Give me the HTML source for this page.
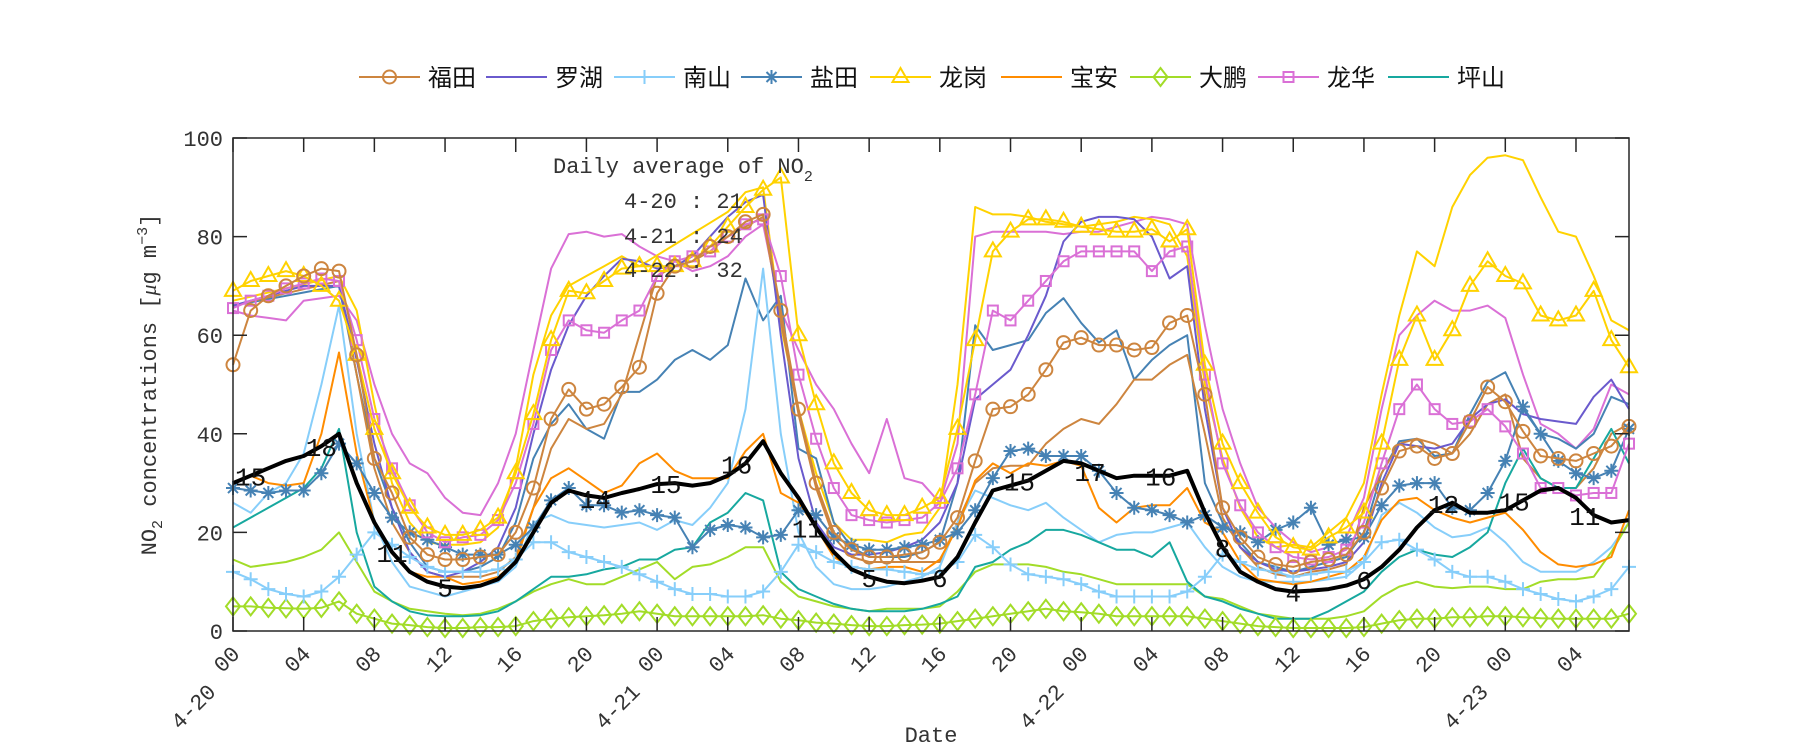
<!DOCTYPE html>
<html><head><meta charset="utf-8">
<style>
html,body{margin:0;padding:0;background:#fff;}
svg{display:block;}
text{font-family:"Liberation Mono",monospace;fill:#333;}
.cjk{font-family:"Liberation Sans","Noto Sans CJK SC",sans-serif;fill:#111;}
</style></head><body>
<svg id="s" width="1800" height="750" xmlns="http://www.w3.org/2000/svg"></svg>
<script>
const S=document.getElementById('s');
const L=233,R=1629,T=138,B=631,NH=79;
const X=h=>L+h*(R-L)/NH, Y=v=>B-v*(B-T)/100;
let out='';
function interp(kp){const a=[];
 const pts=[];for(let i=0;i<kp.length;i+=2)pts.push([kp[i],kp[i+1]]);
 for(let h=0;h<=NH;h++){let j=0;while(j<pts.length-1&&pts[j+1][0]<h)j++;
  const p=pts[j],q=pts[Math.min(j+1,pts.length-1)];
  let v;if(h<=p[0])v=p[1];else if(q[0]===p[0])v=p[1];else v=p[1]+(q[1]-p[1])*(h-p[0])/(q[0]-p[0]);a.push(v);}return a;}
function line(vals,col,w){out+=`<polyline fill="none" stroke="${col}" stroke-width="${w}" stroke-linejoin="round" points="${vals.map((v,h)=>X(h).toFixed(1)+','+Y(v).toFixed(1)).join(' ')}"/>`;}
function marker(type,x,y,col){
 x=+x;y=+y;
 const st=`fill="none" stroke="${col}" stroke-width="2"`;
 if(type==='o')return `<circle cx="${x}" cy="${y}" r="6.5" ${st}/>`;
 if(type==='+')return `<path d="M${x-7} ${y}h14M${x} ${y-7}v14" ${st}/>`;
 if(type==='*')return `<path d="M${x-7} ${y}h14M${x} ${y-7}v14M${x-5} ${y-5}l10 10M${x-5} ${y+5}l10 -10" ${st}/>`;
 if(type==='^')return `<path d="M${x} ${y-9}L${x+8} ${y+5}L${x-8} ${y+5}Z" ${st}/>`;
 if(type==='d')return `<path d="M${x} ${y-9}L${x+7} ${y}L${x} ${y+9}L${x-7} ${y}Z" ${st}/>`;
 if(type==='s')return `<rect x="${x-5}" y="${y-5}" width="10" height="10" ${st}/>`;
 return '';}
function series(vals,col,m){line(vals,col,2);if(m)vals.forEach((v,h)=>out+=marker(m,X(h),Y(v),col));}
const seq=a=>{const k=[];a.forEach((v,i)=>{k.push(i,v)});return interp(k);};

const C={fu:'#CD853F',luo:'#6A5ACD',nan:'#87CEFA',yan:'#4682B4',lg:'#FFD200',ba:'#FF8C00',dp:'#A2DC28',lh:'#DA70D6',ps:'#17A89F'};

series(seq([65,64,63.5,63,67,67.5,68,63,50,40,34,32,27,24,23.5,30,40,57,73.5,80.5,81,80,80.5,78,76,75,73,74,76,80,82.5,65,57,50,45,38,32,43,31,30,26,38,80,81,81,81,81,80.5,81,81,82,83,84,83.5,82.5,62,45,34,25,21,18,16,17,19,27,45,60,64,67,65,65,66,63.5,52,42,40,37,41,50,48]),C.lh);
series(interp([0,67,6,72,7,65,8,46,9,30,10,22,11,18,12,17.5,13,17.5,14,18,15,21,16,33,17,52,18,64,19,70,20,72,21,74,22,76,23,74,28,85,29,89,30,90,31,62,32,45,33,32,34,22,35,18.5,36,18.5,37,18,38,19.5,39,20,40,25,41,50,42,86,43,84.5,44,84.5,45,84,46,83,47,82.5,48,82,49,82.5,50,83,51,84,52,83.5,53,82.5,54,76,55,50,56,35,57,25,58,19,59,17,60,17.5,61,17,62,20,63,23,64,30,65,48,66,64,67,77,68,74,69,86,70,92.5,71,96,72,96.5,73,95.5,74,88,75,81,76,80,77,72,78,63,79,61]),C.lg);
series(interp([0,66,6,70,7,52,8,35,9,25,10,18,11,13,12,12,13,12,14,13,15,15,16,22,17,35,18,42,19,46,20,41,21,39,22,48.5,23,48.5,24,51,25,55,26,57,27,55,28,58,29,71.5,30,63,31,68,32,37,33,35,34,22,35,17,36,15,37,15,38,15,39,16,40,18,41,30,42,62,43,57,44,58,45,59,46,64.5,47,67.5,48,62.5,49,58.5,50,61,51,51,52,55,53,58,54,60,55,30,56,22,57,18,58,14,59,13,60,12,61,13,62,14,63,15,64,20,65,32,66,38.5,67,39,68,35.5,69,36,70,44,71,50.5,72,52.5,73,45,74,40,75,39,76,37,77,40,78,47.5,79,46]),C.yan);
series(interp([0,66,6,71,7,52,8,33,9,22,10,16,11,12,12,11,13,11,14,11,15,12,16,15,17,25,18,37,19,43,20,41,21,42,22,48,23,60,24,72,25,74,26,75,27,77,28,80,29,82,30,84,31,63,32,44,33,29,34,19,35,15,36,14,37,14,38,14,39,14,40,14,41,22,42,30,43,33,44,33.5,45,33.5,46,38,47,41,48,43,49,42,50,46,51,51,52,51,53,54,54,56,55,40,56,23,57,17,58,13,59,11.5,60,11,61,12,62,12.5,63,13.5,64,25,65,32,66,38,67,39,68,38,69,36,70,40,71,46,72,48,73,35,74,31,75,29,76,29,77,33,78,40,79,42]),C.fu);
series(seq([26,24,28,30,36,50,66,40,22,14,9,8,7,8,9,10,13,22,23.5,22,21.5,21,21.5,22,20.5,22.5,21.5,25,30,45,73.5,40,20,13,9.5,8.5,8.5,9,10,11,13,22,28.5,27,25.5,24.5,26,23,20.5,18,19.5,20,20,21,22,17,13,11,10,10,10,10,10.5,11,14,23.5,26,24,21,19,19.5,21,18,14,12,12,12,14,17,22]),C.nan);
series(seq([14.5,13,13.5,14,15,16.5,20,14,8,6,4.5,4,3.5,3.2,3.5,4.5,6,8,9.5,10.5,9.5,9.5,11,12.5,14,10.5,13,13.5,15,17,17,10,7,6,5,4.5,4,4.5,4.5,4.5,5,8,12,13.5,13.5,13.5,13,12,11.5,10.5,9.5,9.5,9.5,9.5,9.5,7,6.5,5,3.5,3,2.5,2.5,2.5,3,4,7,9,10,9,8.7,9,9,8.5,8.5,10,10.5,10.5,11,16,22]),C.dp);
series(seq([21,23,25,27,29,33,41,20,9,6,4,3.2,3,3,3.2,4,6,8.5,11,11,11.5,12.5,13,14.5,14.5,16.5,17,22,24,28,26.5,12,8.5,7,5.5,4.5,4,4,4,4.5,5.5,7,13,14,16.5,18,20.5,20.5,19.5,18,16.5,16.5,15,18,10,7,6,4.5,3.5,2.5,2.5,2.5,4,6,8,12,15,16.5,15.5,15,17,20,30,37,31,29,29,35,41,34]),C.ps);
series(seq([30,31.5,30,29.5,30,40,56.5,36,22,16,12,11,11,9.5,10,11,14,25,31,33,30.5,28,29.5,34,36,32.5,31,31,31,36.5,40,28,26,21,15,13,12.5,13,13,12,14.5,21,30.5,34,32,34,33.5,34.5,33.5,25,22,25,25.5,25.5,29,22,20,14,10.5,10,9.5,10,11,12,15,22.5,26.5,27,24.5,23,22,23,24,20.5,16,13.5,13,13.5,15,24.5]),C.ba);
series(seq([66,67,68,69,70,70,70,55,38,25,16,12,11,12,14,17,25,40,53,62,68,72,75.5,75,73.5,74,76,80,84,87,88.5,60,35,22,17,15.5,15.5,16,17,18.5,22,30,47,50,53,60,68,79,83,84,84,83.5,80,71.5,74,45,25,17,14,12.5,12,12.5,13,14,18,30,38,37.5,37,38,43,46,47,44,43,42.5,42,47.5,51,45]),C.luo);
series(seq([5,5,4.7,4.6,4.5,4.7,6,3.5,2.5,1.5,1.2,0.8,0.6,0.6,0.8,0.8,1,2,2.5,2.8,3,3.2,3.5,4,3.5,3,3,3,3,3,3.2,2.5,2.2,1.7,1.5,1.2,1,1,1.2,1.3,1.5,2,2.5,3,3.5,4,4.5,4,3.8,3.5,3,3,3,3,3,2.5,2,1.5,1,0.8,0.6,0.6,0.6,0.6,0.8,1.5,2.2,2.5,2.5,2.8,2.8,3,3,2.8,2.6,2.5,2.5,2.5,2.5,3.5]),C.dp,'d');
series(seq([12,10.5,8.5,7.5,7,8,11,15.5,20,17.5,15,13,12,12,12,12.5,14.5,18,18,16,15,14,13,11.5,10,8.5,7.5,7.5,7,7,8,12,17.5,16,14,13,12.5,12.5,12,11.5,12,14,19.5,17,13.5,11.5,11,10.5,9.5,8,7,7,7,7,8,11,15.5,14,12.5,12,11,11.5,12,12,14,18,18.5,16.5,14.5,12,11,11,10,8.5,7.5,6.5,6,7,8.5,13]),C.nan,'+');
series(seq([29,28.5,28,28.5,28.5,32,38,34,28,23,20,18.5,17,15.5,15.5,15.5,17.5,21,26.5,29,25.5,25.5,24,24.5,23.5,23,17,20.5,21.5,21,19,19.5,24.5,23.5,19,17.5,16.5,16.5,17,17.5,18.5,20,24.5,31,36.5,37,35.5,35.5,35.5,32.5,28,25,24.5,23.5,22,23.5,21,20,18,20.5,22,25,17.5,18.5,19,25.5,29.5,30,30,25,24.5,28,34.5,45.5,40,34.5,32,31,32.5,41]),C.yan,'*');
series(seq([65.5,67,68,69.5,70.5,71.5,71,59,43,33,25.5,20,18,19,19.5,22.5,30,42,57,63,61,60.5,63,65,72,75,76,77,80,82.5,83.5,72,52,39,29,23.5,22.5,22,22.5,23,26,33,48,65,63,67,71,75,77,77,77,77,73,77,78,52,34,25.5,20,17,15,14.5,15,16.5,22,34,45,50,45,42,42.5,45,41.5,36,29,29,27.5,28,28,38]),C.lh,'s');
series(seq([69,71,72,73,72,70,67,56,41,32,25,21,19.5,19.5,20.5,23,32,44,59,69,68.5,71,73.5,74,74,74,75,78,82,86,89.5,92,60,46,34,28,24.5,23.5,23.5,25,27,41,59,77,81,83.5,83.5,83,82,81.5,81,81,81.5,79,81.5,54,38,30,24,19,17,16.5,19,21,24,38,55,64,55,61,70,75,72,70.5,64,63,64,69,59,53.5]),C.lg,'^');
series(seq([54,65,68,70,72,73.5,73,56,35,28,19,15.5,14.5,14.5,15,15.5,20,29,43,49,45,46,49.5,53.5,68.5,74,75,78,80,83,84.5,65,45,30,20,16.5,15,15,15.5,16,18,23,34.5,45,45.5,48,53,58.5,59.5,58,58,57,57.5,62.5,64,48,25,19,15,13.5,13,14,14.5,15.5,20,29,36.5,37.5,35,36,42.5,49.5,46.5,40.5,35.5,35,34.5,36,37.5,41.5]),C.fu,'o');
const avg=seq([30,31.5,33,34.5,35.5,37.5,40,30,22,16,12,10,9,8.7,9.2,10.5,14,20,26,28.5,27.5,27,28,28.8,29.8,30,29.5,30,31.5,34,38.5,32,27,21,16,12.5,11,10,9.7,10.2,11,15,22,28.5,29.5,30.5,32.5,34.5,34,32.5,31,31.5,31.5,31.5,32.5,24,17,12,10,8.5,8,8.2,8.5,9.2,10.5,13,16.5,21,24.5,26,24,24,24.5,26.5,28.5,29,27,23.5,22,22.5,26]);
line(avg,'#000',4);
[[1,'15'],[5,'18'],[9,'11'],[12,'5'],[20.5,'14'],[24.5,'15'],[28.5,'16'],[32.5,'11'],[36,'5'],[40,'6'],[44.5,'15'],[48.5,'17'],[52.5,'16'],[56,'8'],[60,'4'],[64,'6'],[68.5,'12'],[72.5,'15'],[76.5,'11']].forEach(([h,t])=>{
 const v=avg[Math.round(h)];out+=`<text x="${X(h)}" y="${Y(v)+10}" font-size="26" text-anchor="middle" style="fill:#111">${t}</text>`;});
out+=`<rect x="${L}" y="${T}" width="${R-L}" height="${B-T}" fill="none" stroke="#262626" stroke-width="1.5"/>`;
for(let v=0;v<=100;v+=20){const y=Y(v);out+=`<path d="M${L} ${y}h14M${R} ${y}h-14" stroke="#262626" stroke-width="1.5"/><text x="${L-10}" y="${y+8}" font-size="22" text-anchor="end">${v}</text>`;}
const days=['4-20','4-21','4-22','4-23'];
for(let h=0;h<=76;h+=4){const x=X(h);out+=`<path d="M${x} ${B}v-14M${x} ${T}v14" stroke="#262626" stroke-width="1.5"/>`;
 const hh=String(h%24).padStart(2,'0');
 out+=`<text transform="translate(${x+8},${B+24}) rotate(-45)" font-size="22" text-anchor="end">${hh}</text>`;
 if(h%24===0)out+=`<text transform="translate(${x-16},${B+62}) rotate(-45)" font-size="22" text-anchor="end">${days[h/24]}</text>`;}
out+=`<text x="${(L+R)/2}" y="742" font-size="22" text-anchor="middle">Date</text>`;
out+=`<text transform="translate(156,${(T+B)/2}) rotate(-90)" font-size="22" text-anchor="middle">NO<tspan font-size="15" dy="6">2</tspan><tspan dy="-6"> concentrations [</tspan><tspan font-family="Liberation Serif" font-style="italic">μ</tspan>g m<tspan font-size="15" dy="-9">−3</tspan><tspan dy="9">]</tspan></text>`;
out+=`<text x="553" y="173" font-size="22">Daily average of NO<tspan font-size="15" dy="8">2</tspan></text>`;
out+=`<text x="624" y="208" font-size="22">4-20 : 21</text><text x="624" y="243" font-size="22">4-21 : 24</text><text x="624" y="277" font-size="22">4-22 : 32</text>`;
const lg=[['福田',C.fu,'o'],['罗湖',C.luo,''],['南山',C.nan,'+'],['盐田',C.yan,'*'],['龙岗',C.lg,'^'],['宝安',C.ba,''],['大鹏',C.dp,'d'],['龙华',C.lh,'s'],['坪山',C.ps,'']];
const lx=[359,486,614,741,870,1001,1130,1258,1388];
lg.forEach((it,i)=>{const x=lx[i],y=77;out+=`<path d="M${x} ${y}h61" stroke="${it[1]}" stroke-width="2"/>`+marker(it[2],x+30.5,y,it[1])+`<text class="cjk" x="${x+69}" y="${y+9}" font-size="24">${it[0]}</text>`;});
S.innerHTML=out;
</script>
</body></html>
